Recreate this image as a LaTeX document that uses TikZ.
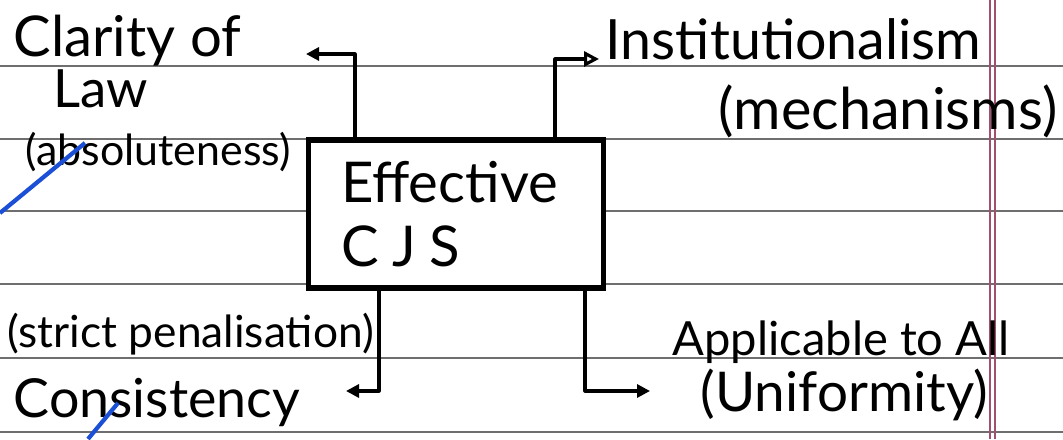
\documentclass[tikz,border=0pt]{standalone}
\usepackage{fontspec}
\setmainfont{Lato}
\usetikzlibrary{arrows.meta}

\definecolor{rule}{HTML}{6E6E6E}
\definecolor{margin}{HTML}{A0506E}
\definecolor{pen}{HTML}{1B4FD6}

\tikzset{
  hand/.style={font=\fontsize{#1}{#1}\selectfont, anchor=base west, inner sep=0pt},
  link/.style={line width=0.9pt, line join=round},
  tipfill/.style={-{Triangle[length=1.3mm,width=1.3mm]}},
  tipopen/.style={-{Triangle[open,length=1.5mm,width=1.5mm]}},
}

\begin{document}
\begin{tikzpicture}
  \useasboundingbox (0,0) rectangle (10.63,4.39);
  \fill[white] (0,0) rectangle (10.63,4.39);

  % ruled paper
  \foreach \y in {3.73,3.00,2.28,1.55,0.81,0.07}
    \draw[rule, line width=0.5pt] (0,\y) -- (10.63,\y);
  \foreach \x in {9.90,9.95}
    \draw[margin, line width=0.4pt] (\x,0) -- (\x,4.39);

  % centre box
  \node [draw, line width=1.5pt, minimum width=2.95cm, minimum height=1.48cm,
         text width=2.3cm, align=left, font=\fontsize{16}{18}\selectfont,
         fill=white] (cjs) at (4.56,2.25)
        {Effective\\{\addfontfeature{LetterSpace=24}CJS}};

  % labels
  \node [hand=16] (clarity) at (0.13,3.82) {Clarity of};
  \node [hand=15] (law) at (0.53,3.31) {Law};
  \node [hand=12.2] (absol) at (0.25,2.73) {(absoluteness)};
  \node [hand=15.8] (inst) at (6.05,3.79) {Institutionalism};
  \node [hand=16.4] (mech) at (7.18,3.09) {(mechanisms)};
  \node [hand=12.6] (strict) at (0.07,0.91) {(strict penalisation)};
  \node [hand=15.3] (consist) at (0.13,0.22) {Consistency};
  \node [hand=13.4] (applic) at (6.72,0.84) {Applicable to All};
  \node [hand=15.6] (unif) at (7.00,0.27) {(Uniformity)};

  % bends and tips
  \coordinate (b1) at (3.55,3.85);
  \coordinate (a1) at (3.06,3.85);
  \coordinate (b2) at (5.55,3.80);
  \coordinate (a2) at (5.99,3.80);
  \coordinate (b3) at (3.79,0.48);
  \coordinate (a3) at (3.46,0.48);
  \coordinate (b4) at (5.85,0.48);
  \coordinate (a4) at (6.50,0.48);

  \draw [link, tipfill] (cjs.north -| b1) |- (a1);
  \draw [link, tipopen] (cjs.north -| b2) |- (a2);
  \draw [link, tipfill] (cjs.south -| b3) |- (a3);
  \draw [link, tipfill] (cjs.south -| b4) |- (a4);

  % blue pen strokes
  \draw [pen, line width=1.2pt] (0,2.26) -- (0.85,2.96);
  \draw [pen, line width=1.2pt] (0.88,0) -- (1.18,0.36);
\end{tikzpicture}
\end{document}
